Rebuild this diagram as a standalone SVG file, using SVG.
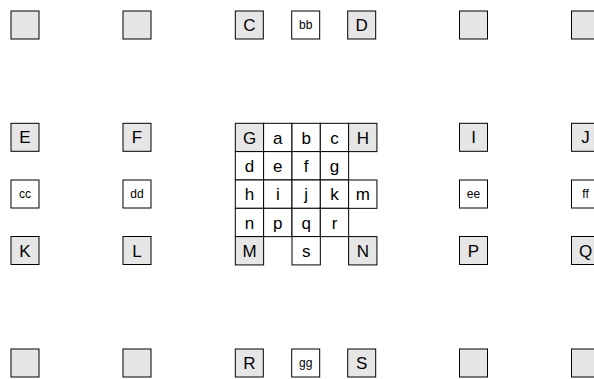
<svg xmlns="http://www.w3.org/2000/svg" width="594" height="379" viewBox="0 0 594 379">
<style>
.g,.w{stroke:#000;stroke-width:1}
.g{fill:#e6e6e6}
.w{fill:#fff}
text{font-family:"Liberation Sans",Arial,sans-serif;fill:#000;text-anchor:middle}
.t{font-size:17px}
.s{font-size:12px}
</style>
<rect x="0" y="0" width="594" height="379" fill="#fff"/>
<g id="connectors"/>
<!-- top row -->
<g id="n00"><rect class="g" x="11" y="11" width="28" height="28"/></g>
<g id="n01"><rect class="g" x="123" y="11" width="28" height="28"/></g>
<g id="C"><rect class="g" x="235.3" y="11" width="28" height="28"/><text class="t" x="249.3" y="31.1">C</text></g>
<g id="bb"><rect class="w" x="291.7" y="11" width="28" height="28"/><text class="s" x="305.7" y="29.3">bb</text></g>
<g id="D"><rect class="g" x="347.7" y="11" width="28" height="28"/><text class="t" x="361.7" y="31.1">D</text></g>
<g id="n05"><rect class="g" x="459.5" y="11" width="28" height="28"/></g>
<g id="n06"><rect class="g" x="571.5" y="11" width="28" height="28"/></g>
<!-- E row -->
<g id="E"><rect class="g" x="11" y="123.3" width="28" height="28"/><text class="t" x="25" y="143.4">E</text></g>
<g id="F"><rect class="g" x="123" y="123.3" width="28" height="28"/><text class="t" x="137" y="143.4">F</text></g>
<g id="I"><rect class="g" x="459.5" y="123.3" width="28" height="28"/><text class="t" x="473.5" y="143.4">I</text></g>
<g id="J"><rect class="g" x="571.5" y="123.3" width="28" height="28"/><text class="t" x="585.5" y="143.4">J</text></g>
<!-- cc row -->
<g id="cc"><rect class="w" x="11" y="180" width="28" height="28"/><text class="s" x="25" y="198.3">cc</text></g>
<g id="dd"><rect class="w" x="123" y="180" width="28" height="28"/><text class="s" x="137" y="198.3">dd</text></g>
<g id="ee"><rect class="w" x="459.5" y="180" width="28" height="28"/><text class="s" x="473.5" y="198.3">ee</text></g>
<g id="ff"><rect class="w" x="571.5" y="180" width="28" height="28"/><text class="s" x="585.5" y="198.3">ff</text></g>
<!-- K row -->
<g id="K"><rect class="g" x="11" y="236.5" width="28" height="28"/><text class="t" x="25" y="256.6">K</text></g>
<g id="L"><rect class="g" x="123" y="236.5" width="28" height="28"/><text class="t" x="137" y="256.6">L</text></g>
<g id="P"><rect class="g" x="459.5" y="236.5" width="28" height="28"/><text class="t" x="473.5" y="256.6">P</text></g>
<g id="Q"><rect class="g" x="571.5" y="236.5" width="28" height="28"/><text class="t" x="585.5" y="256.6">Q</text></g>
<!-- bottom row -->
<g id="n40"><rect class="g" x="11" y="349" width="28" height="28"/></g>
<g id="n41"><rect class="g" x="123" y="349" width="28" height="28"/></g>
<g id="R"><rect class="g" x="235.3" y="349" width="28" height="28"/><text class="t" x="249.3" y="369.1">R</text></g>
<g id="gg"><rect class="w" x="291.7" y="349" width="28" height="28"/><text class="s" x="305.7" y="367.3">gg</text></g>
<g id="S"><rect class="g" x="347.7" y="349" width="28" height="28"/><text class="t" x="361.7" y="369.1">S</text></g>
<g id="n45"><rect class="g" x="459.5" y="349" width="28" height="28"/></g>
<g id="n46"><rect class="g" x="571.5" y="349" width="28" height="28"/></g>
<!-- center grid -->
<g id="G"><rect class="g" x="235.3" y="123.3" width="28.33" height="28.33"/><text class="t" x="249.5" y="143.6">G</text></g>
<g id="a"><rect class="w" x="263.6" y="123.3" width="28.33" height="28.33"/><text class="t" x="277.8" y="143.6">a</text></g>
<g id="b"><rect class="w" x="292" y="123.3" width="28.33" height="28.33"/><text class="t" x="306.2" y="143.6">b</text></g>
<g id="c"><rect class="w" x="320.3" y="123.3" width="28.33" height="28.33"/><text class="t" x="334.5" y="143.6">c</text></g>
<g id="H"><rect class="g" x="348.6" y="123.3" width="28.33" height="28.33"/><text class="t" x="362.8" y="143.6">H</text></g>
<g id="d"><rect class="w" x="235.3" y="151.6" width="28.33" height="28.33"/><text class="t" x="249.5" y="171.9">d</text></g>
<g id="e"><rect class="w" x="263.6" y="151.6" width="28.33" height="28.33"/><text class="t" x="277.8" y="171.9">e</text></g>
<g id="f"><rect class="w" x="292" y="151.6" width="28.33" height="28.33"/><text class="t" x="306.2" y="171.9">f</text></g>
<g id="g"><rect class="w" x="320.3" y="151.6" width="28.33" height="28.33"/><text class="t" x="334.5" y="171.9">g</text></g>
<g id="h"><rect class="w" x="235.3" y="180" width="28.33" height="28.33"/><text class="t" x="249.5" y="200.3">h</text></g>
<g id="i"><rect class="w" x="263.6" y="180" width="28.33" height="28.33"/><text class="t" x="277.8" y="200.3">i</text></g>
<g id="j"><rect class="w" x="292" y="180" width="28.33" height="28.33"/><text class="t" x="306.2" y="200.3">j</text></g>
<g id="k"><rect class="w" x="320.3" y="180" width="28.33" height="28.33"/><text class="t" x="334.5" y="200.3">k</text></g>
<g id="m"><rect class="w" x="348.6" y="180" width="28.33" height="28.33"/><text class="t" x="362.8" y="200.3">m</text></g>
<g id="n"><rect class="w" x="235.3" y="208.3" width="28.33" height="28.33"/><text class="t" x="249.5" y="228.6">n</text></g>
<g id="p"><rect class="w" x="263.6" y="208.3" width="28.33" height="28.33"/><text class="t" x="277.8" y="228.6">p</text></g>
<g id="q"><rect class="w" x="292" y="208.3" width="28.33" height="28.33"/><text class="t" x="306.2" y="228.6">q</text></g>
<g id="r"><rect class="w" x="320.3" y="208.3" width="28.33" height="28.33"/><text class="t" x="334.5" y="228.6">r</text></g>
<g id="M"><rect class="g" x="235.3" y="236.6" width="28.33" height="28.33"/><text class="t" x="249.5" y="256.9">M</text></g>
<g id="s"><rect class="w" x="292" y="236.6" width="28.33" height="28.33"/><text class="t" x="306.2" y="256.9">s</text></g>
<g id="N"><rect class="g" x="348.6" y="236.6" width="28.33" height="28.33"/><text class="t" x="362.8" y="256.9">N</text></g>
</svg>
